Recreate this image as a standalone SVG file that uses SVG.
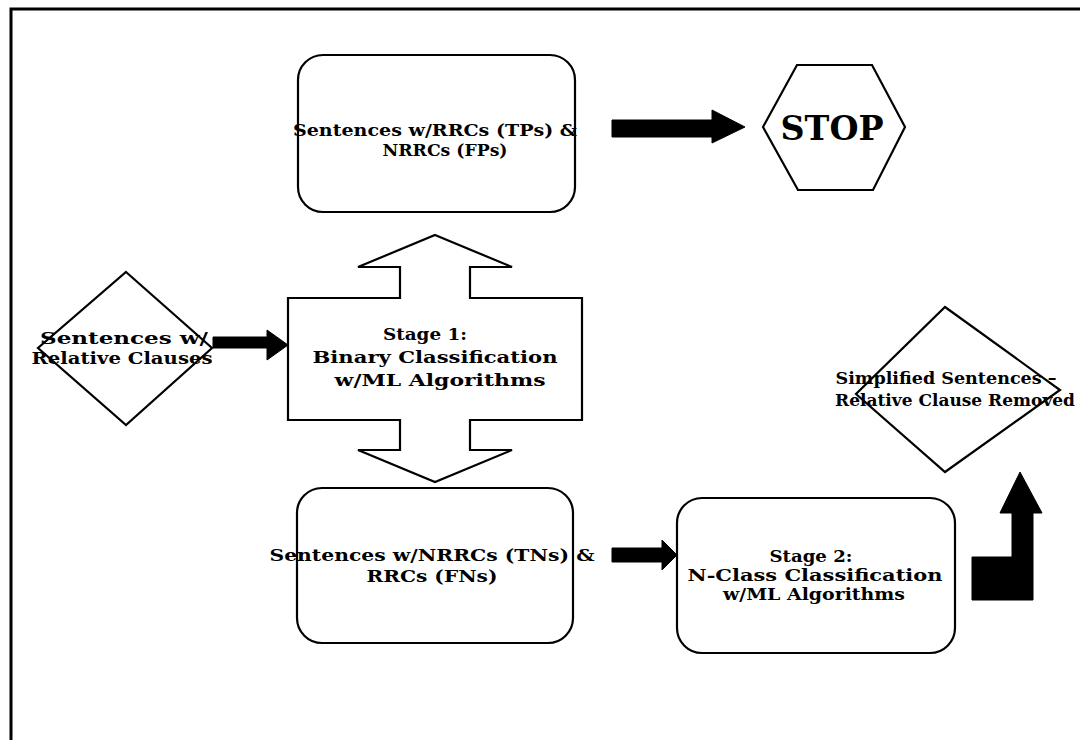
<svg xmlns="http://www.w3.org/2000/svg" width="1080" height="740" viewBox="0 0 1080 740">
<style>
.shape{fill:#fff;stroke:#000;stroke-width:2.2;stroke-linejoin:miter}
.arrow{fill:#000;stroke:#000;stroke-width:1}
.t{font-family:"DejaVu Serif","Liberation Serif",serif;font-weight:bold;font-size:17px;fill:#000;text-anchor:middle}
.big{font-size:33px}
</style>
<rect width="1080" height="740" fill="#fff"/>
<g id="frame">
<path d="M11,740 L11,9 L1080,9" fill="none" stroke="#000" stroke-width="3"/>
</g>
<g id="connectors">
<polygon class="arrow" points="612,120 712,120 712,110 745,127 712,143 712,137 612,137"/>
<polygon class="arrow" points="213,337 267,337 267,330 288,345 267,360 267,348 213,348"/>
<polygon class="arrow" points="612,548 662,548 662,540 677,555 662,570 662,562 612,562"/>
<polygon class="arrow" points="972,557 1012,557 1012,513 1000,513 1020,472 1042,513 1033,513 1033,600 972,600"/>
</g>
<g id="node-tp-fp">
<rect class="shape" x="298" y="55" width="277" height="157" rx="25" ry="25"/>
<text class="t" x="435" y="136" textLength="284" lengthAdjust="spacingAndGlyphs">Sentences w/RRCs (TPs) &amp;</text>
<text class="t" x="445" y="156" textLength="125" lengthAdjust="spacingAndGlyphs">NRRCs (FPs)</text>
</g>
<g id="node-stop">
<polygon class="shape" points="763,127 797,65 872,65 905,127 873,190 798,190"/>
<text class="t big" x="832" y="140" textLength="103" lengthAdjust="spacingAndGlyphs">STOP</text>
</g>
<g id="node-input">
<polygon class="shape" points="126,272 212,348 126,425 38,348"/>
<text class="t" x="124" y="344" textLength="168" lengthAdjust="spacingAndGlyphs">Sentences w/</text>
<text class="t" x="122" y="364" textLength="181" lengthAdjust="spacingAndGlyphs">Relative Clauses</text>
</g>
<g id="node-stage1">
<polygon class="shape" points="435,235 512,267 470,267 470,298 582,298 582,420 470,420 470,450 512,450 435,482 358,450 400,450 400,420 288,420 288,298 400,298 400,267 358,267"/>
<text class="t" x="425" y="340" textLength="84" lengthAdjust="spacingAndGlyphs">Stage 1:</text>
<text class="t" x="435" y="363" textLength="245" lengthAdjust="spacingAndGlyphs">Binary Classification</text>
<text class="t" x="440" y="386" textLength="211" lengthAdjust="spacingAndGlyphs">w/ML Algorithms</text>
</g>
<g id="node-tn-fn">
<rect class="shape" x="297" y="488" width="276" height="155" rx="25" ry="25"/>
<text class="t" x="432" y="561" textLength="325" lengthAdjust="spacingAndGlyphs">Sentences w/NRRCs (TNs) &amp;</text>
<text class="t" x="432" y="582" textLength="131" lengthAdjust="spacingAndGlyphs">RRCs (FNs)</text>
</g>
<g id="node-stage2">
<rect class="shape" x="677" y="498" width="278" height="155" rx="25" ry="25"/>
<text class="t" x="811" y="562" textLength="83" lengthAdjust="spacingAndGlyphs">Stage 2:</text>
<text class="t" x="815" y="581" textLength="255" lengthAdjust="spacingAndGlyphs">N-Class Classification</text>
<text class="t" x="814" y="600" textLength="182" lengthAdjust="spacingAndGlyphs">w/ML Algorithms</text>
</g>
<g id="node-output">
<polygon class="shape" points="945,307 1060,390 945,472 856,394"/>
<text class="t" x="946" y="384" textLength="221" lengthAdjust="spacingAndGlyphs">Simplified Sentences –</text>
<text class="t" x="955" y="406" textLength="240" lengthAdjust="spacingAndGlyphs">Relative Clause Removed</text>
</g>
</svg>
